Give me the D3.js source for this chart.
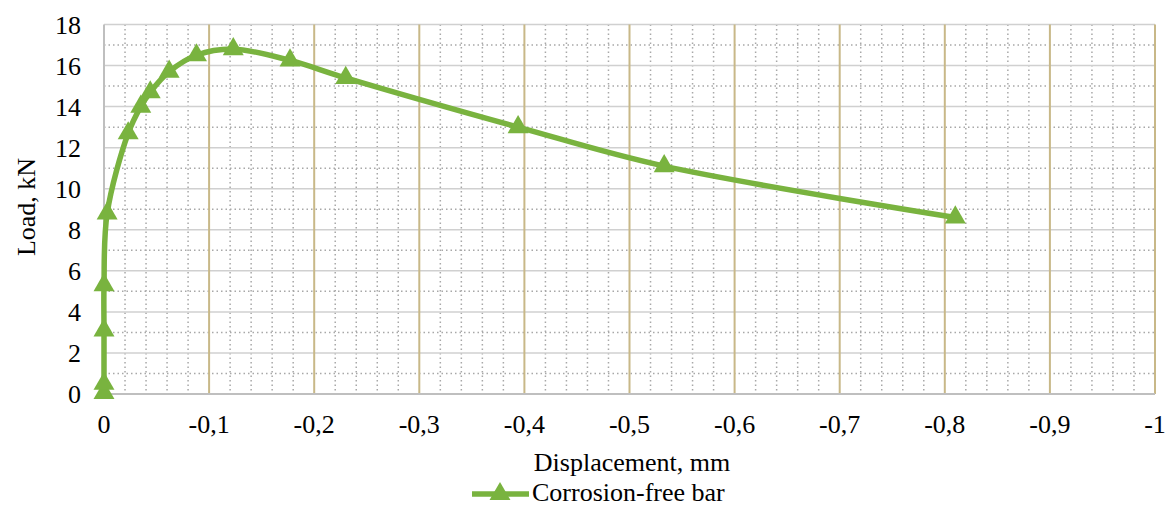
<!DOCTYPE html>
<html>
  <head>
    <meta charset="utf-8">
    <style>
      body { margin: 0; background: #fff; }
    </style>
  </head>
  <body>
    <script src="https://d3js.org/d3.v7.min.js"></script>
    <script>
      // data
      const disp = [0, 0, 0, 0, -0.003, -0.023, -0.035, -0.044, -0.062, -0.088, -0.123, -0.177, -0.23, -0.394, -0.533, -0.81];
      const load = [0.05, 0.5, 3.1, 5.3, 8.8, 12.7, 14.0, 14.7, 15.7, 16.5, 16.8, 16.25, 15.4, 13.0, 11.1, 8.6];
      const xTicks = [0, -0.1, -0.2, -0.3, -0.4, -0.5, -0.6, -0.7, -0.8, -0.9, -1];
      const yTicks = [0, 2, 4, 6, 8, 10, 12, 14, 16, 18];
      const seriesName = "Corrosion-free bar";

      const W = 1172, H = 508;
      const green = "#79b33f";
      const serif = "Liberation Serif";
      const fs = 26;
      const svg = d3.select("body").append("svg")
        .attr("width", W)
        .attr("height", H);

      const x = d3.scaleLinear().domain([0, -1]).range([104, 1155]);
      const y = d3.scaleLinear().domain([0, 18]).range([394, 24.5]);

      // minor grid (dotted)
      const xMinor = d3.range(0, 50).map(i => -i * 0.02).filter((v, i) => i % 5 != 0);
      svg.append("g").selectAll("line").data(xMinor).join("line")
        .attr("x1", d => x(d)).attr("x2", d => x(d))
        .attr("y1", y(18)).attr("y2", y(0))
        .attr("stroke", "#a8a8a8").attr("stroke-width", 1.5)
        .attr("stroke-dasharray", "1.5,3");
      const yMinor = d3.range(1, 18, 2);
      svg.append("g").selectAll("line").data(yMinor).join("line")
        .attr("x1", x(0)).attr("x2", x(-1))
        .attr("y1", d => y(d)).attr("y2", d => y(d))
        .attr("stroke", "#a8a8a8").attr("stroke-width", 1.5)
        .attr("stroke-dasharray", "1.5,3");

      // major horizontal grid
      svg.append("g").selectAll("line").data(yTicks.slice(1)).join("line")
        .attr("x1", x(0)).attr("x2", x(-1))
        .attr("y1", d => y(d)).attr("y2", d => y(d))
        .attr("stroke", "#d0d0d0").attr("stroke-width", 1.5);
      // major vertical grid (tan)
      svg.append("g").selectAll("line").data(xTicks.slice(1)).join("line")
        .attr("x1", d => x(d)).attr("x2", d => x(d))
        .attr("y1", y(18)).attr("y2", y(0))
        .attr("stroke", "#c8b888").attr("stroke-width", 2);

      // axes lines
      svg.append("line").attr("x1", x(0)).attr("x2", x(-1)).attr("y1", y(0)).attr("y2", y(0))
        .attr("stroke", "#bfbfbf").attr("stroke-width", 2);
      svg.append("line").attr("x1", x(0)).attr("x2", x(0)).attr("y1", y(0)).attr("y2", y(18))
        .attr("stroke", "#bfbfbf").attr("stroke-width", 2);

      // tick labels (comma decimals, plain hyphen minus)
      const fmtX = d => d === 0 ? "0" : d === -1 ? "-1" : "-" + Math.abs(d).toFixed(1).replace(".", ",");
      svg.append("g").selectAll("text").data(xTicks).join("text")
        .attr("x", d => x(d)).attr("y", 433)
        .attr("text-anchor", "middle")
        .attr("font-family", serif)
        .attr("font-size", fs)
        .text(fmtX);
      svg.append("g").selectAll("text").data(yTicks).join("text")
        .attr("x", 81).attr("y", d => y(d) + 9)
        .attr("text-anchor", "end")
        .attr("font-family", serif)
        .attr("font-size", fs)
        .text(d => d);

      // axis titles
      svg.append("text")
        .attr("x", 632).attr("y", 471)
        .attr("text-anchor", "middle")
        .attr("font-family", serif).attr("font-size", fs)
        .text("Displacement, mm");
      svg.append("text")
        .attr("transform", "translate(35,207) rotate(-90)")
        .attr("text-anchor", "middle")
        .attr("font-family", serif).attr("font-size", fs)
        .text("Load, kN");

      // series line
      const pts = disp.map((d, i) => [d, load[i]]);
      const line = d3.line()
        .x(d => x(d[0])).y(d => y(d[1]))
        .curve(d3.curveCatmullRom.alpha(0.5));
      svg.append("path").datum(pts)
        .attr("d", line)
        .attr("fill", "none")
        .attr("stroke", green)
        .attr("stroke-width", 5.5)
        .attr("stroke-linejoin", "round");

      const tri = d3.symbol().type(d3.symbolTriangle).size(190);
      svg.append("g").selectAll("path").data(pts).join("path")
        .attr("transform", d => `translate(${x(d[0])},${y(d[1])})`)
        .attr("d", tri)
        .attr("fill", green);

      // legend
      svg.append("line").attr("x1", 472).attr("x2", 529).attr("y1", 494).attr("y2", 494)
        .attr("stroke", green).attr("stroke-width", 5.5);
      svg.append("path").attr("transform", "translate(500,494)").attr("d", tri).attr("fill", green);
      svg.append("text")
        .attr("x", 532).attr("y", 501)
        .attr("font-family", serif).attr("font-size", fs)
        .text(seriesName);
    </script>
  </body>
</html>
